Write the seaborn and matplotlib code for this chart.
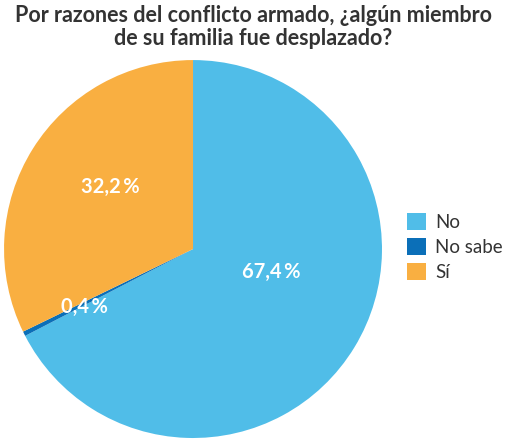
import matplotlib
matplotlib.use("Agg")
import matplotlib.pyplot as plt
import seaborn as sns
import numpy as np

categories = ["No", "No sabe", "Sí"]
values = [67.4, 0.4, 32.2]
colors = ["#50BDE8", "#0B6FB8", "#F9AF41"]
title = "Por razones del conflicto armado, ¿algún miembro\nde su familia fue desplazado?"

# label placement inside each wedge: (angle in degrees, fraction of radius)
label_pos = [(-16.7, 0.43), (-152.0, 0.65), (143.0, 0.55)]

sns.set_theme(style="white")
plt.rcParams["font.family"] = ["Lato", "DejaVu Sans"]

fig = plt.figure(figsize=(5.07, 4.41), dpi=100)
ax = fig.add_axes([0.0079, 0.0068, 0.7456, 0.857])

wedges, _ = ax.pie(values, colors=colors, startangle=90, counterclock=False,
                   wedgeprops=dict(linewidth=0))
ax.set_xlim(-1, 1)
ax.set_ylim(-1, 1)
ax.set_aspect("equal")

for v, (ang, r) in zip(values, label_pos):
    a = np.deg2rad(ang)
    ax.text(r * np.cos(a), r * np.sin(a),
            f"{v:.1f}".replace(".", ",") + "\u2009%",
            color="white", fontsize=14.5, fontweight="bold",
            ha="center", va="center")

fig.text(0.5, 0.988, title, ha="center", va="top", fontsize=15.5,
         fontweight="bold", color="#333333", linespacing=1.1)

leg = fig.legend(wedges, categories, loc="center left",
                 bbox_to_anchor=(0.785, 0.44), frameon=False,
                 fontsize=13.5, handlelength=1.0, handleheight=1.0,
                 handletextpad=0.5, labelspacing=0.38, borderpad=0)
for t in leg.get_texts():
    t.set_color("#333333")

fig.savefig("out.png", dpi=100)
